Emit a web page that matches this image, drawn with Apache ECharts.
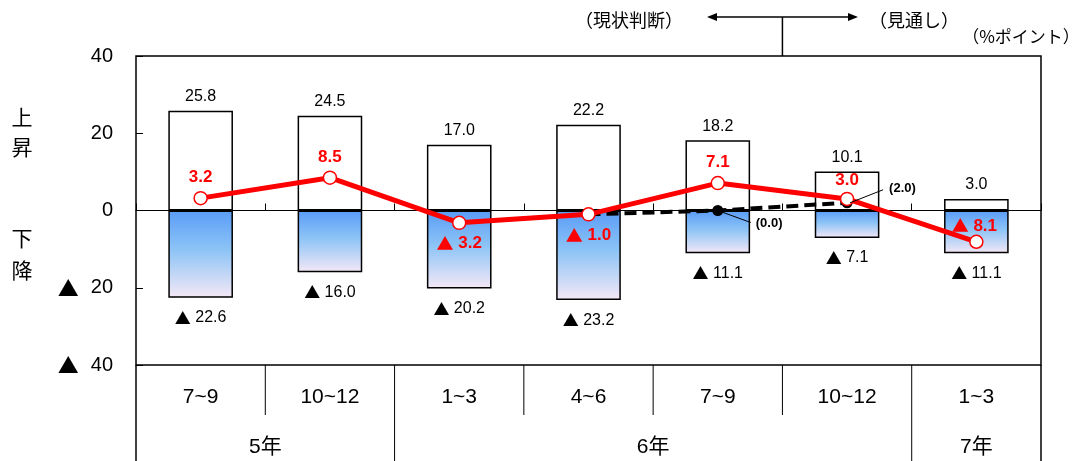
<!DOCTYPE html>
<html><head><meta charset="utf-8">
<script src="https://cdn.jsdelivr.net/npm/echarts@6/dist/echarts.min.js"></script>
<style>html,body{margin:0;padding:0;background:#fff}#c{width:1079px;height:461px}</style>
</head><body><div id="c"></div>
<script>
// ---- data ----
const quarters = ['7~9', '10~12', '1~3', '4~6', '7~9', '10~12', '1~3'];
const years = ['5年', '6年', '7年'];
const yearSpans = [[0, 1], [2, 5], [6, 6]];
const riseValues = [25.8, 24.5, 17.0, 22.2, 18.2, 10.1, 3.0];
const fallValues = [-22.6, -16.0, -20.2, -23.2, -11.1, -7.1, -11.1];
const diValues = [3.2, 8.5, -3.2, -1.0, 7.1, 3.0, -8.1];
const prevOutlook = [null, null, null, -1.0, 0.0, 2.0, null];

const NUM_FONT = '"Liberation Sans", Arial, "Noto Sans CJK JP", sans-serif';
const JP_FONT = '"Noto Sans CJK JP", sans-serif';
function fmtRich(v) { return v < 0 ? '{t|▲} ' + Math.abs(v).toFixed(1) : v.toFixed(1); }
const triRich = size => ({ t: { fontFamily: JP_FONT, fontSize: size } });

const diLabelPos = ['top', 'top', 'bottom', 'bottom', 'top', 'top', 'top'];

const chart = echarts.init(document.getElementById('c'), null, { renderer: 'canvas' });

const option = {
  animation: false,
  backgroundColor: '#fff',
  grid: { left: 136, right: 38, top: 56, bottom: 96, show: true, borderColor: '#000', borderWidth: 1.5, backgroundColor: 'transparent', containLabel: false, outerBoundsMode: 'none' },
  xAxis: [
    {
      type: 'category', data: quarters, position: 'bottom',
      axisLine: { show: false, onZero: false }, axisTick: { show: false },
      axisLabel: { fontSize: 21, color: '#000', margin: 22, fontFamily: NUM_FONT, interval: 0 },
      splitLine: { show: false }
    },
    {
      type: 'category', data: quarters, position: 'bottom',
      axisLine: { show: true, onZero: true, lineStyle: { color: '#000', width: 1 } },
      axisTick: { show: true, inside: true, length: 7, interval: 0, lineStyle: { color: '#000', width: 1 } },
      axisLabel: { show: false }, splitLine: { show: false }
    }
  ],
  yAxis: {
    type: 'value', min: -40, max: 40, interval: 20,
    axisLine: { show: false },
    axisTick: { show: true, inside: true, length: 7, lineStyle: { color: '#000' } },
    splitLine: { show: false },
    axisLabel: {
      fontSize: 20, color: '#000', margin: 23, fontFamily: NUM_FONT,
      formatter: v => v < 0 ? '{t|▲}' + Math.abs(v) : String(v),
      rich: { t: { fontFamily: JP_FONT, fontSize: 21, padding: [0, 12, 0, 0] } }
    }
  },
  series: [
    {
      type: 'bar', name: '上昇', data: riseValues, barWidth: '50%', barGap: '-100%', z: 2,
      itemStyle: { color: '#fff', borderColor: '#000', borderWidth: 1.5 },
      label: { show: true, position: 'top', distance: 6, fontSize: 16, color: '#000', fontFamily: NUM_FONT, formatter: p => fmtRich(p.value), rich: triRich(16) },
      emphasis: { disabled: true }
    },
    {
      type: 'bar', name: '下降', data: fallValues, barWidth: '50%', barGap: '-100%', z: 2,
      itemStyle: {
        color: new echarts.graphic.LinearGradient(0, 0, 0, 1, [
          { offset: 0, color: '#5A9CF7' },
          { offset: 0.45, color: '#8DC4F6' },
          { offset: 1, color: '#F5E8F6' }
        ]),
        borderColor: '#000', borderWidth: 1.5
      },
      label: { show: true, position: 'bottom', distance: 12, fontSize: 16, color: '#000', fontFamily: NUM_FONT, formatter: p => fmtRich(p.value), rich: triRich(16) },
      emphasis: { disabled: true }
    },
    {
      type: 'line', name: '前回見通し', z: 3,
      data: prevOutlook.map((v, i) => (i === 3 ? { value: v, symbol: 'none' } : v)),
      lineStyle: { color: '#000', width: 4, type: [12, 6] },
      symbol: 'circle', symbolSize: 11, itemStyle: { color: '#000' },
      connectNulls: false, emphasis: { disabled: true }
    },
    {
      type: 'line', name: 'DI', z: 4,
      data: diValues.map((v, i) => ({
        value: v,
        label: { position: diLabelPos[i], distance: i === 6 ? 0 : (i === 5 ? 3 : 5), offset: i === 6 ? [-2, 0] : [0, 0] }
      })),
      lineStyle: { color: '#FF0000', width: 5 },
      symbol: 'circle', symbolSize: 13,
      itemStyle: { color: '#fff', borderColor: '#FF0000', borderWidth: 1.5 },
      label: { show: true, fontSize: 17, fontWeight: 'bold', color: '#FF0000', fontFamily: NUM_FONT, formatter: p => fmtRich(p.value), rich: { t: { fontFamily: JP_FONT, fontSize: 17, color: '#FF0000' } } },
      emphasis: { disabled: true }
    }
  ]
};
chart.setOption(option);

// ---- annotations positioned through the chart's scales ----
const px = (i, v) => chart.convertToPixel({ xAxisIndex: 0, yAxisIndex: 0 }, [i, v]);
const cx = i => px(i, 0)[0];
const half = (cx(1) - cx(0)) / 2;
const bnd = i => cx(0) - half + i * 2 * half;
const yBottom = px(0, -40)[1];
const yTop = px(0, 40)[1];
const H = 461;
const g = [];
const fullLines = [0, 2, 6, 7];
const shortLines = [1, 3, 4, 5];
fullLines.forEach(i => g.push({ type: 'line', shape: { x1: bnd(i), y1: yBottom, x2: bnd(i), y2: H }, style: { stroke: '#000', lineWidth: (i === 0 || i === 7) ? 1.5 : 1 } }));
shortLines.forEach(i => g.push({ type: 'line', shape: { x1: bnd(i), y1: yBottom, x2: bnd(i), y2: yBottom + 50 }, style: { stroke: '#000', lineWidth: 1 } }));
years.forEach((y, k) => {
  const [a, b] = yearSpans[k];
  const x = (bnd(a) + bnd(b + 1)) / 2;
  g.push({ type: 'text', x: x, y: 447, style: { text: y, font: '21px ' + NUM_FONT, fill: '#000', align: 'center', verticalAlign: 'middle' } });
});
// leader labels for previous outlook
const p0 = px(4, prevOutlook[4]);
g.push({ type: 'line', shape: { x1: p0[0], y1: p0[1], x2: p0[0] + 33, y2: p0[1] + 12 }, style: { stroke: '#000', lineWidth: 1 }, z: 10 });
g.push({ type: 'text', x: p0[0] + 38, y: p0[1] + 13, style: { text: '(' + prevOutlook[4].toFixed(1) + ')', font: 'bold 13px ' + NUM_FONT, fill: '#000', verticalAlign: 'middle' }, z: 10 });
const p1 = px(5, prevOutlook[5]);
g.push({ type: 'line', shape: { x1: p1[0] + 3, y1: p1[1], x2: p1[0] + 36, y2: p1[1] - 13 }, style: { stroke: '#000', lineWidth: 1 }, z: 10 });
g.push({ type: 'text', x: p1[0] + 42, y: p1[1] - 14, style: { text: '(' + prevOutlook[5].toFixed(1) + ')', font: 'bold 13px ' + NUM_FONT, fill: '#000', verticalAlign: 'middle' }, z: 10 });
// header: current vs outlook divider
const xDiv = bnd(5);
g.push({ type: 'line', shape: { x1: xDiv, y1: 17, x2: xDiv, y2: yTop }, style: { stroke: '#000', lineWidth: 1.5 } });
g.push({ type: 'line', shape: { x1: 714, y1: 17, x2: 851, y2: 17 }, style: { stroke: '#000', lineWidth: 1.5 } });
g.push({ type: 'polygon', shape: { points: [[707, 17], [717, 13], [717, 21]] }, style: { fill: '#000' } });
g.push({ type: 'polygon', shape: { points: [[858, 17], [848, 13], [848, 21]] }, style: { fill: '#000' } });
g.push({ type: 'text', x: 629, y: 20, style: { text: '（現状判断）', font: '18px ' + JP_FONT, fill: '#000', align: 'center', verticalAlign: 'middle' } });
g.push({ type: 'text', x: 914, y: 20, style: { text: '（見通し）', font: '18px ' + JP_FONT, fill: '#000', align: 'center', verticalAlign: 'middle' } });
g.push({ type: 'text', x: 1021, y: 37, style: { text: '（%ポイント）', font: '17px ' + JP_FONT, fill: '#000', align: 'center', verticalAlign: 'middle' } });
// side labels
g.push({ type: 'text', x: 22, y: 132, style: { text: '上\n昇', font: '21px ' + JP_FONT, fill: '#000', align: 'center', verticalAlign: 'middle', lineHeight: 30 } });
g.push({ type: 'text', x: 22, y: 254, style: { text: '下\n降', font: '21px ' + JP_FONT, fill: '#000', align: 'center', verticalAlign: 'middle', lineHeight: 32 } });
chart.setOption({ graphic: g });
</script>
</body></html>
